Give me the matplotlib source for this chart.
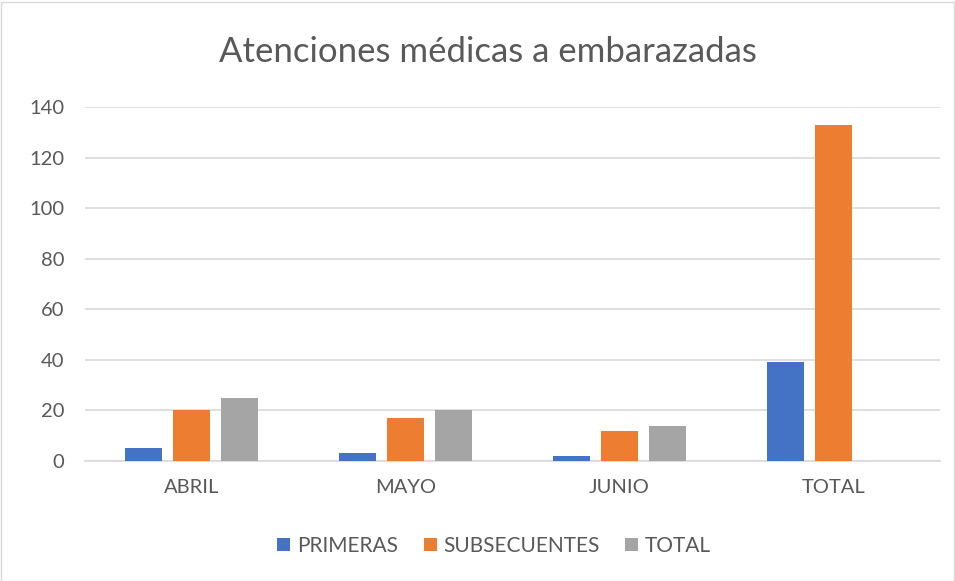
import matplotlib
matplotlib.use("Agg")
import matplotlib.pyplot as plt
import numpy as np
from matplotlib.patches import Rectangle

categories = ["ABRIL", "MAYO", "JUNIO", "TOTAL"]
primeras = [5, 3, 2, 39]
subsecuentes = [20, 17, 12, 133]
total = [25, 20, 14, 0]
series_names = ["PRIMERAS", "SUBSECUENTES", "TOTAL"]
colors = ["#4472C4", "#ED7D31", "#A5A5A5"]
yticks = [0, 20, 40, 60, 80, 100, 120, 140]

plt.rcParams['font.family'] = ['Lato', 'DejaVu Sans']
txt = "#595959"

fig = plt.figure(figsize=(9.55, 5.81), dpi=100)
ax = fig.add_axes([85/955, (581-461)/581, 855/955, 354/581])

x = np.arange(len(categories))
w = 0.173
step = 0.225
for i, (vals, name, c) in enumerate(zip([primeras, subsecuentes, total], series_names, colors)):
    ax.bar(x + (i-1)*step, vals, width=w, color=c, label=name, zorder=3)

ax.set_xlim(-0.5, len(categories)-0.5)
ax.set_ylim(0, 140)
ax.set_yticks(yticks)
ax.set_yticklabels([str(v) for v in yticks], color=txt, fontsize=14.5)
ax.set_xticks(x)
ax.set_xticklabels(categories, color=txt, fontsize=14.5)
ax.tick_params(axis='both', length=0)
ax.tick_params(axis='y', pad=15)
ax.tick_params(axis='x', pad=13)
ax.grid(axis='y', color="#D9D9D9", linewidth=1.2, zorder=0)
for s in ["top", "right", "left"]:
    ax.spines[s].set_visible(False)
ax.spines["bottom"].set_color("#D9D9D9")
ax.spines["bottom"].set_linewidth(1.2)

fig.text(488/955, 1 - 52/581, "Atenciones médicas a embarazadas", ha="center", va="center",
         fontsize=25, color=txt)

handles, labels = ax.get_legend_handles_labels()
leg = fig.legend(handles, labels, loc="center", bbox_to_anchor=(494/955, 1 - 546/581), ncol=3,
                 frameon=False, fontsize=15, handlelength=0.62, handleheight=0.62,
                 handletextpad=0.3, columnspacing=1.25)
for t in leg.get_texts():
    t.set_color(txt)

fig.patches.append(Rectangle((0.5/955, 0.5/581), 1 - 2/955, 1 - 2/581, transform=fig.transFigure,
                             fill=False, edgecolor="#D9D9D9", linewidth=1))

fig.savefig("out.png", dpi=100)
